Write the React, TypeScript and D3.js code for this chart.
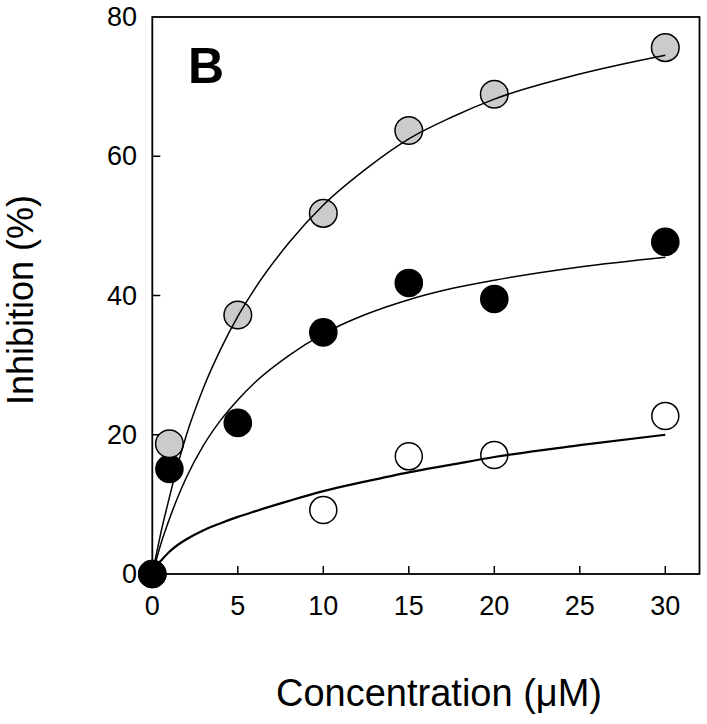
import React from "react";
import * as d3 from "d3";

// Measured data points
const concGray = [1, 5, 10, 15, 20, 30];
const inhGray = [18.7, 37.2, 51.8, 63.7, 68.9, 75.6];
const concBlack = [0, 1, 5, 10, 15, 20, 30];
const inhBlack = [0, 15.1, 21.7, 34.7, 41.8, 39.5, 47.7];
const concWhite = [10, 15, 20, 30];
const inhWhite = [9.2, 16.9, 17.1, 22.7];

// Fitted curves
const curveConc = [0, 0.25, 0.5, 1, 1.5, 2, 3, 4, 5, 6, 8, 10, 12.5, 15, 17.5, 20, 25, 30];
const curveGray = [0, 3.0, 5.9, 11.0, 15.8, 20.0, 26.8, 32.3, 37.0, 41.0, 47.6, 53.0, 58.2, 62.5, 65.6, 68.2, 71.8, 74.5];
const curveBlack = [0, 2.2, 4.3, 7.9, 11.1, 13.9, 18.5, 22.1, 25.0, 27.5, 31.4, 34.5, 37.3, 39.4, 41.0, 42.2, 44.1, 45.5];
const curveWhite = [0, 1.2, 1.9, 3.2, 4.2, 5.0, 6.3, 7.3, 8.2, 9.0, 10.5, 11.9, 13.3, 14.6, 15.7, 16.8, 18.5, 20.0];

const xTicks = [0, 5, 10, 15, 20, 25, 30];
const yTicks = [0, 20, 40, 60, 80];

const W = 707;
const H = 724;
const FONT = "Liberation Sans, Arial, Helvetica, sans-serif";

export default function App() {
  const x = d3.scaleLinear().domain([0, 32]).range([152.3, 699.5]);
  const y = d3.scaleLinear().domain([0, 80]).range([574, 17]);
  const line = d3
    .line<[number, number]>()
    .x((d) => x(d[0]))
    .y((d) => y(d[1]))
    .curve(d3.curveMonotoneX);
  const mk = (vals: number[]) => curveConc.map((c, i) => [c, vals[i]] as [number, number]);

  const [x0, x1] = x.range();
  const [yb, yt] = y.range();

  return (
    <svg
      width={W}
      height={H}
      style={{ position: "absolute", left: 0, top: 0, background: "#fff" }}
      fontFamily={FONT}
    >
      {/* frame */}
      <rect x={x0} y={yt} width={x1 - x0} height={yb - yt} fill="none" stroke="#000" strokeWidth={1.8} />
      {/* x ticks */}
      {xTicks.map((t) => (
        <g key={"x" + t}>
          {t > 0 && <line x1={x(t)} x2={x(t)} y1={yb} y2={yb - 8} stroke="#000" strokeWidth={1.5} />}
          <text x={x(t)} y={615} fontSize={27} textAnchor="middle">
            {t}
          </text>
        </g>
      ))}
      {/* y ticks */}
      {yTicks.map((t) => (
        <g key={"y" + t}>
          {t > 0 && t < 80 && <line x1={x0} x2={x0 + 8} y1={y(t)} y2={y(t)} stroke="#000" strokeWidth={1.5} />}
          <text x={137} y={y(t)} fontSize={27} textAnchor="end" dominantBaseline="central">
            {t}
          </text>
        </g>
      ))}
      {/* markers */}
      {concWhite.map((c, i) => (
        <circle key={"w" + i} cx={x(c)} cy={y(inhWhite[i])} r={13.5} fill="#fff" stroke="#000" strokeWidth={1.5} />
      ))}
      {concBlack.map((c, i) => (
        <circle key={"b" + i} cx={x(c)} cy={y(inhBlack[i])} r={14.3} fill="#000" />
      ))}
      {concGray.map((c, i) => (
        <circle key={"g" + i} cx={x(c)} cy={y(inhGray[i])} r={13.8} fill="#cbcbcb" stroke="#000" strokeWidth={1.5} />
      ))}
      {/* fitted curves */}
      <path d={line(mk(curveGray)) || ""} fill="none" stroke="#000" strokeWidth={1.5} />
      <path d={line(mk(curveBlack)) || ""} fill="none" stroke="#000" strokeWidth={1.5} />
      <path d={line(mk(curveWhite)) || ""} fill="none" stroke="#000" strokeWidth={2.2} />
      {/* origin black point on top */}
      <circle cx={x(concBlack[0])} cy={y(inhBlack[0])} r={14.3} fill="#000" />
      {/* panel label */}
      <text x={188} y={83} fontSize={50} fontWeight="bold">
        B
      </text>
      {/* axis titles */}
      <text x={276} y={706} fontSize={38}>
        Concentration (μM)
      </text>
      <text transform="translate(33,300) rotate(-90)" fontSize={36} textAnchor="middle">
        Inhibition (%)
      </text>
    </svg>
  );
}
